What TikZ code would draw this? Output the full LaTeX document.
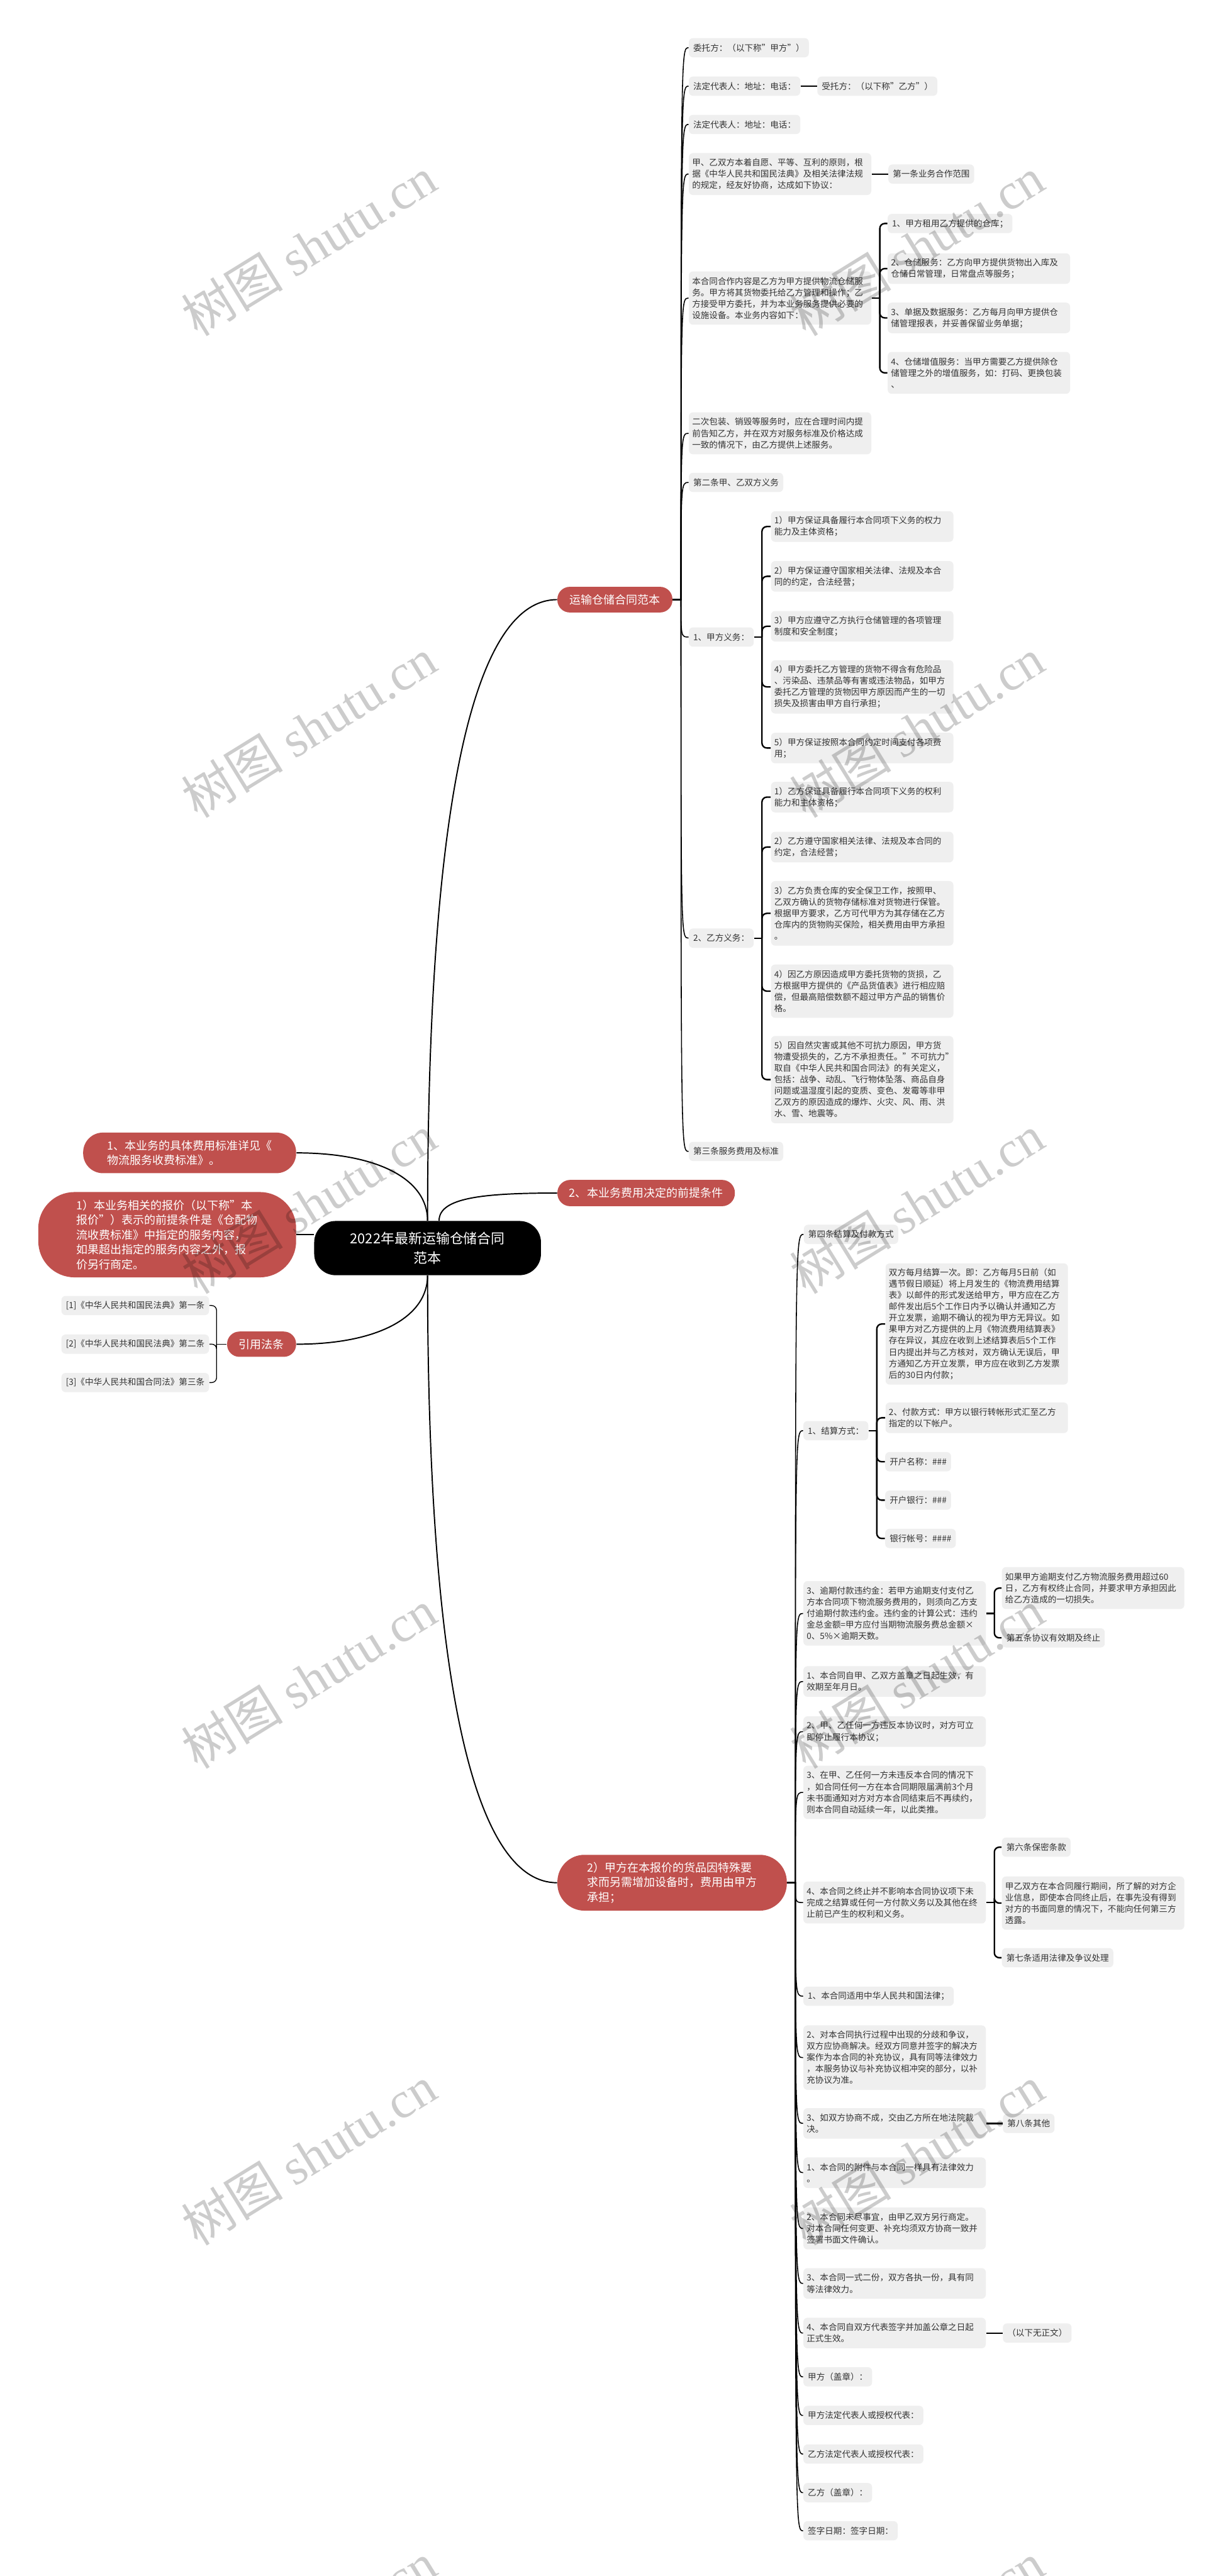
\documentclass[tikz,border=0pt]{standalone}
\usepackage{fontspec}
\setmainfont{Noto Sans CJK SC}
\newfontfamily\wmserif{Liberation Serif}
\usetikzlibrary{calc}
\definecolor{boxgray}{HTML}{EFEFEF}
\definecolor{txtgray}{HTML}{333333}
\definecolor{redc}{RGB}{192,80,77}
\begin{document}
\begin{tikzpicture}[x=1pt,y=-1pt,
  gbox/.style={fill=boxgray, rounded corners=2.5pt, text=txtgray, font=\fontsize{5.2}{6.9}\selectfont, inner xsep=2.7pt, inner ysep=1.5pt, anchor=north west, align=left, minimum height=11.7pt},
  gw/.style={text width=107pt, inner xsep=2pt},
  nl/.style={minimum height={6.9pt*#1+4.8pt}},
  rbox/.style={fill=redc, text=white, font=\fontsize{6.9}{9}\selectfont, inner sep=0pt, anchor=north west, align=left},
  trc/.style={line width=0.6pt},
  brk/.style={line width=0.9pt, rounded corners=3pt},
  rootc/.style={line width=0.75pt},
  thinc/.style={line width=0.5pt},
  wm/.style={rotate=31.7, text=black, text opacity=0.2, font=\fontsize{31}{31}\selectfont},
]
\fill[white] (0,0) rectangle (743,1568);
\useasboundingbox (0,0) rectangle (743,1568);

% root and main branches
\node[fill=black, text=white, font=\fontsize{8.4}{12}\selectfont, align=center, rounded corners=13pt, minimum width=138pt, minimum height=33pt, inner sep=0pt, anchor=north west] (root) at (191,743) {2022年最新运输仓储合同\\范本};
\node[rbox, minimum width=70pt, minimum height=15.6pt, rounded corners=7.5pt] (rA) at (339,357) {运输仓储合同范本};
\node[rbox, minimum width=108pt, minimum height=16pt, rounded corners=7.8pt] (rC) at (339,718) {2、本业务费用决定的前提条件};
\node[rbox, minimum width=139.6pt, minimum height=34pt, rounded corners=16.5pt] (rB) at (339,1128.8) {2）甲方在本报价的货品因特殊要\\求而另需增加设备时，费用由甲方\\承担；};
\node[rbox, minimum width=129.6pt, minimum height=24.7pt, rounded corners=12pt] (l1) at (50.4,689.2) {1、本业务的具体费用标准详见《\\物流服务收费标准》。};
\node[rbox, minimum width=156.9pt, minimum height=51.9pt, rounded corners=22pt] (l2) at (23.1,725.4) {1）本业务相关的报价（以下称"本\\报价"）表示的前提条件是《仓配物\\流收费标准》中指定的服务内容，\\如果超出指定的服务内容之外，报\\价另行商定。};
\node[rbox, minimum width=42pt, minimum height=15.4pt, rounded corners=7.5pt] (l3) at (138,810.3) {引用法条};
\node[gbox, anchor=north east] (l31) at (127.4,788.6) {[1]《中华人民共和国民法典》第一条};
\node[gbox, anchor=north east] (l32) at (127.4,812.1) {[2]《中华人民共和国民法典》第二条};
\node[gbox, anchor=north east] (l33) at (127.4,835.5) {[3]《中华人民共和国合同法》第三条};

% section A
\node[gbox] (a1) at (419,23) {委托方：（以下称"甲方"）};
\node[gbox] (a2) at (419,46.4) {法定代表人：地址：电话：};
\node[gbox, anchor=west] (a2c) at ($(a2.east)+(10,0)$) {受托方：（以下称"乙方"）};
\node[gbox] (a3) at (419,69.7) {法定代表人：地址：电话：};
\node[gbox, gw, nl=3] (a4) at (419,93) {甲、乙双方本着自愿、平等、互利的原则，根\\据《中华人民共和国民法典》及相关法律法规\\的规定，经友好协商，达成如下协议：};
\node[gbox, anchor=west] (a4c) at ($(a4.east)+(10,0)$) {第一条业务合作范围};
\node[gbox, gw, nl=4] (a5) at (419,165) {本合同合作内容是乙方为甲方提供物流仓储服\\务。甲方将其货物委托给乙方管理和操作；乙\\方接受甲方委托，并为本业务服务提供必要的\\设施设备。本业务内容如下：};
\node[gbox] (a51) at (540,130) {1、甲方租用乙方提供的仓库；};
\node[gbox, gw, nl=2] (a52) at (540,154) {2、仓储服务：乙方向甲方提供货物出入库及\\仓储日常管理，日常盘点等服务；};
\node[gbox, gw, nl=2] (a53) at (540,184) {3、单据及数据服务：乙方每月向甲方提供仓\\储管理报表，并妥善保留业务单据；};
\node[gbox, gw, nl=3] (a54) at (540,214) {4、仓储增值服务：当甲方需要乙方提供除仓\\储管理之外的增值服务，如：打码、更换包装\\、};
\node[gbox, gw, nl=3] (a6) at (419,250.8) {二次包装、销毁等服务时，应在合理时间内提\\前告知乙方，并在双方对服务标准及价格达成\\一致的情况下，由乙方提供上述服务。};
\node[gbox] (a7) at (419,287.6) {第二条甲、乙双方义务};
\node[gbox] (a8) at (419,381.7) {1、甲方义务：};
\node[gbox, gw, nl=2] (a81) at (469,311) {1）甲方保证具备履行本合同项下义务的权力\\能力及主体资格；};
\node[gbox, gw, nl=2] (a82) at (469,341.3) {2）甲方保证遵守国家相关法律、法规及本合\\同的约定，合法经营；};
\node[gbox, gw, nl=2] (a83) at (469,371.7) {3）甲方应遵守乙方执行仓储管理的各项管理\\制度和安全制度；};
\node[gbox, gw, nl=4] (a84) at (469,401.7) {4）甲方委托乙方管理的货物不得含有危险品\\、污染品、违禁品等有害或违法物品，如甲方\\委托乙方管理的货物因甲方原因而产生的一切\\损失及损害由甲方自行承担；};
\node[gbox, gw, nl=2] (a85) at (469,445.8) {5）甲方保证按照本合同约定时间支付各项费\\用；};
\node[gbox] (a9) at (419,565) {2、乙方义务：};
\node[gbox, gw, nl=2] (a91) at (469,475.7) {1）乙方保证具备履行本合同项下义务的权利\\能力和主体资格；};
\node[gbox, gw, nl=2] (a92) at (469,506.1) {2）乙方遵守国家相关法律、法规及本合同的\\约定，合法经营；};
\node[gbox, gw, nl=5] (a93) at (469,536.1) {3）乙方负责仓库的安全保卫工作，按照甲、\\乙双方确认的货物存储标准对货物进行保管。\\根据甲方要求，乙方可代甲方为其存储在乙方\\仓库内的货物购买保险，相关费用由甲方承担\\。};
\node[gbox, gw, nl=4] (a94) at (469,586.9) {4）因乙方原因造成甲方委托货物的货损，乙\\方根据甲方提供的《产品货值表》进行相应赔\\偿，但最高赔偿数额不超过甲方产品的销售价\\格。};
\node[gbox, gw, nl=7] (a95) at (469,630.4) {5）因自然灾害或其他不可抗力原因，甲方货\\物遭受损失的，乙方不承担责任。"不可抗力"\\取自《中华人民共和国合同法》的有关定义，\\包括：战争、动乱、飞行物体坠落、商品自身\\问题或温湿度引起的变质、变色、发霉等非甲\\乙双方的原因造成的爆炸、火灾、风、雨、洪\\水、雪、地震等。};
\node[gbox] (a10) at (419,694.8) {第三条服务费用及标准};

% section B
\node[gbox] (b1) at (489,745.3) {第四条结算及付款方式};
\node[gbox] (b2) at (488.7,864.8) {1、结算方式：};
\node[gbox, gw, nl=10] (b21) at (538.7,768.8) {双方每月结算一次。即：乙方每月5日前（如\\遇节假日顺延）将上月发生的《物流费用结算\\表》以邮件的形式发送给甲方，甲方应在乙方\\邮件发出后5个工作日内予以确认并通知乙方\\开立发票，逾期不确认的视为甲方无异议。如\\果甲方对乙方提供的上月《物流费用结算表》\\存在异议，其应在收到上述结算表后5个工作\\日内提出并与乙方核对，双方确认无误后，甲\\方通知乙方开立发票，甲方应在收到乙方发票\\后的30日内付款；};
\node[gbox, gw, nl=2] (b22) at (538.7,853.5) {2、付款方式：甲方以银行转帐形式汇至乙方\\指定的以下帐户。};
\node[gbox] (b23) at (538.5,883.7) {开户名称：\#\#\#};
\node[gbox] (b24) at (538.5,907.1) {开户银行：\#\#\#};
\node[gbox] (b25) at (538.5,930.4) {银行帐号：\#\#\#\#};
\node[gbox, gw, nl=5] (b3) at (488.7,962.2) {3、逾期付款违约金：若甲方逾期支付支付乙\\方本合同项下物流服务费用的，则须向乙方支\\付逾期付款违约金。违约金的计算公式：违约\\金总金额=甲方应付当期物流服务费总金额×\\0、5\%×逾期天数。};
\node[gbox, gw, nl=3] (b31) at (609.5,953.7) {如果甲方逾期支付乙方物流服务费用超过60\\日，乙方有权终止合同，并要求甲方承担因此\\给乙方造成的一切损失。};
\node[gbox] (b32) at (609.5,990.9) {第五条协议有效期及终止};
\node[gbox, gw, nl=2] (b4) at (488.7,1014) {1、本合同自甲、乙双方盖章之日起生效，有\\效期至年月日。};
\node[gbox, gw, nl=2] (b5) at (488.7,1044.5) {2、甲、乙任何一方违反本协议时，对方可立\\即停止履行本协议；};
\node[gbox, gw, nl=4] (b6) at (488.7,1074.6) {3、在甲、乙任何一方未违反本合同的情况下\\，如合同任何一方在本合同期限届满前3个月\\未书面通知对方对方本合同结束后不再续约，\\则本合同自动延续一年，以此类推。};
\node[gbox, gw, nl=3] (b7) at (488.7,1145.1) {4、本合同之终止并不影响本合同协议项下未\\完成之结算或任何一方付款义务以及其他在终\\止前已产生的权利和义务。};
\node[gbox] (b71) at (609.5,1118.3) {第六条保密条款};
\node[gbox, gw, nl=4] (b72) at (609.5,1142) {甲乙双方在本合同履行期间，所了解的对方企\\业信息，即使本合同终止后，在事先没有得到\\对方的书面同意的情况下，不能向任何第三方\\透露。};
\node[gbox] (b73) at (609.5,1185.6) {第七条适用法律及争议处理};
\node[gbox] (b8) at (488.7,1209) {1、本合同适用中华人民共和国法律；};
\node[gbox, gw, nl=5] (b9) at (488.7,1232.6) {2、对本合同执行过程中出现的分歧和争议，\\双方应协商解决。经双方同意并签字的解决方\\案作为本合同的补充协议，具有同等法律效力\\，本服务协议与补充协议相冲突的部分，以补\\充协议为准。};
\node[gbox, gw, nl=2] (b10) at (488.7,1283) {3、如双方协商不成，交由乙方所在地法院裁\\决。};
\node[gbox, anchor=west] (b10c) at ($(b10.east)+(10,0)$) {第八条其他};
\node[gbox, gw, nl=2] (b11) at (488.7,1313) {1、本合同的附件与本合同一样具有法律效力\\。};
\node[gbox, gw, nl=3] (b12) at (488.7,1343.5) {2、本合同未尽事宜，由甲乙双方另行商定。\\对本合同任何变更、补充均须双方协商一致并\\签署书面文件确认。};
\node[gbox, gw, nl=2] (b13) at (488.7,1380.4) {3、本合同一式二份，双方各执一份，具有同\\等法律效力。};
\node[gbox, gw, nl=2] (b14) at (488.7,1410.6) {4、本合同自双方代表签字并加盖公章之日起\\正式生效。};
\node[gbox, anchor=west] (b14c) at ($(b14.east)+(10,0)$) {（以下无正文）};
\node[gbox] (b15) at (488.7,1440.7) {甲方（盖章）：};
\node[gbox] (b16) at (488.7,1464.2) {甲方法定代表人或授权代表：};
\node[gbox] (b17) at (488.7,1487.7) {乙方法定代表人或授权代表：};
\node[gbox] (b18) at (488.7,1511.2) {乙方（盖章）：};
\node[gbox] (b19) at (488.7,1534.4) {签字日期：签字日期：};

% root connectors
\draw[rootc] (root.north) .. controls ($(root.north)+(0,-263)$) and ($(rA.west)+(-49,0)$) .. (rA.west);
\coordinate (rn2) at ($(root.north)+(7,0)$);
\draw[rootc] (rn2) .. controls ($(rn2)+(0,-14)$) and ($(rC.west)+(-45,0)$) .. (rC.west);
\draw[rootc] (root.north) .. controls ($(root.north)+(0,-25)$) and ($(l1.east)+(50,0)$) .. (l1.east);
\draw[rootc] (l2.east) -- (l2.east -| root.west);
\draw[rootc] (root.south) .. controls ($(root.south)+(0,255)$) and ($(rB.west)+(-49,0)$) .. (rB.west);
\draw[rootc] (root.south) .. controls ($(root.south)+(0,25)$) and ($(l3.east)+(50,0)$) .. (l3.east);

% citation bracket
\coordinate (j3) at ($(l3.west)+(-6.2,0)$);
\draw[thinc] (l3.west) -- (j3);
\foreach \kid in {l31,l32,l33} \draw[thinc, rounded corners=3pt] (j3) |- (\kid.east);

% trunk A
\coordinate (tA) at ($(rA.east)+(5,0)$);
\foreach \kid in {a1,a2,a3,a4,a5,a6,a7,a8,a9,a10}
  \draw[trc] (rA.east) -- (tA) .. controls (tA |- \kid.west) .. (\kid.west);
% trunk B
\coordinate (tB) at ($(rB.east)+(5,0)$);
\foreach \kid in {b1,b2,b3,b4,b5,b6,b7,b8,b9,b10,b11,b12,b13,b14,b15,b16,b17,b18,b19}
  \draw[trc] (rB.east) -- (tB) .. controls (tB |- \kid.west) .. (\kid.west);

% straight single links
\draw[brk] (a2.east) -- (a2c.west);
\draw[brk] (a4.east) -- (a4c.west);
\draw[brk] (b10.east) -- (b10c.west);
\draw[brk] (b14.east) -- (b14c.west);

% brackets
\coordinate (j5) at ($(a5.east)+(5,0)$);
\draw[brk] (a5.east) -- (j5);
\foreach \kid in {a51,a52,a53,a54} \draw[brk] (j5) |- (\kid.west);
\coordinate (j8) at ($(a8.east)+(4.8,0)$);
\draw[brk] (a8.east) -- (j8);
\foreach \kid in {a81,a82,a83,a84,a85} \draw[brk] (j8) |- (\kid.west);
\coordinate (j9) at ($(a9.east)+(4.8,0)$);
\draw[brk] (a9.east) -- (j9);
\foreach \kid in {a91,a92,a93,a94,a95} \draw[brk] (j9) |- (\kid.west);
\coordinate (jb2) at ($(b2.east)+(5,0)$);
\draw[brk] (b2.east) -- (jb2);
\foreach \kid in {b21,b22,b23,b24,b25} \draw[brk] (jb2) |- (\kid.west);
\coordinate (jb3) at ($(b3.east)+(5,0)$);
\draw[brk] (b3.east) -- (jb3);
\foreach \kid in {b31,b32} \draw[brk] (jb3) |- (\kid.west);
\coordinate (jb7) at ($(b7.east)+(5,0)$);
\draw[brk] (b7.east) -- (jb7);
\foreach \kid in {b71,b72,b73} \draw[brk] (jb7) |- (\kid.west);

% watermarks
\foreach \yy in {150,443,733,1022,1312,1602} {
  \node[wm] (wmL\yy) at (188,\yy) {树图 {\wmserif shutu.cn}};
  \node[wm] (wmR\yy) at (558,\yy) {树图 {\wmserif shutu.cn}};
}
\end{tikzpicture}
\end{document}
